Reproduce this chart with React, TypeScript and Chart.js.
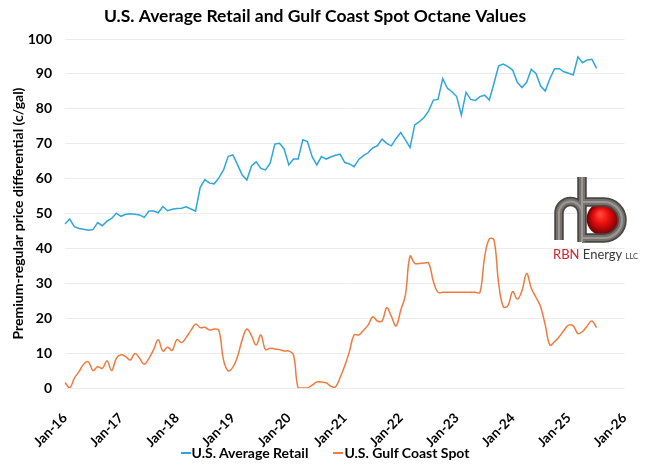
import { useEffect, useRef } from "react";
import { Chart, registerables } from "chart.js";

Chart.register(...registerables);

// Monthly category labels, Jan-16 through Jan-26
const MONTH_NAMES = ["Jan", "Feb", "Mar", "Apr", "May", "Jun", "Jul", "Aug", "Sep", "Oct", "Nov", "Dec"];
const monthLabels: string[] = [];
for (let yr = 16; yr <= 26; yr++) {
  for (let m = 0; m < 12; m++) {
    if (yr === 26 && m > 0) break;
    monthLabels.push(`${MONTH_NAMES[m]}-${yr}`);
  }
}

// Premium-regular differential, c/gal, monthly from Jan-16
const usAverageRetail = [
  47.0, 48.4, 46.2, 45.7, 45.5, 45.2, 45.4, 47.4, 46.5, 47.8, 48.6, 50.1,
  49.2, 49.8, 49.9, 49.8, 49.6, 48.9, 50.7, 50.7, 50.2, 52.0, 50.8, 51.2,
  51.4, 51.5, 51.9, 51.3, 50.7, 57.5, 59.7, 58.7, 58.5, 60.2, 62.5, 66.4,
  66.8, 64.0, 61.0, 59.6, 63.6, 64.8, 62.9, 62.5, 64.4, 69.9, 70.1, 68.5,
  63.9, 65.6, 65.6, 71.1, 70.6, 66.3, 63.9, 66.3, 65.6, 66.2, 66.7, 67.0,
  64.6, 64.2, 63.4, 65.5, 66.6, 67.4, 68.8, 69.4, 71.3, 70.1, 69.4, 71.5,
  73.2, 71.1, 68.9, 75.4, 76.3, 77.5, 79.4, 82.5, 82.7, 88.6, 85.9, 84.9,
  83.5, 78.2, 84.7, 82.7, 82.4, 83.5, 83.9, 82.5, 87.3, 92.3, 92.8, 92.1,
  91.1, 87.6, 86.1, 87.6, 91.3, 90.1, 86.5, 85.1, 88.7, 91.5, 91.5, 90.6,
  90.2, 89.7, 94.9, 93.2, 94.0, 94.2, 91.6,
];

const usGulfCoastSpot = [
  1.6, 0.0, 2.8, 4.7, 6.8, 7.5, 5.0, 6.1, 5.6, 7.8, 5.0, 8.5,
  9.5, 9.0, 8.0, 9.9, 8.5, 6.8, 8.5, 11.0, 13.8, 10.6, 11.7, 10.8,
  13.9, 13.0, 14.5, 16.5, 18.3, 17.3, 17.4, 16.6, 16.9, 16.5, 8.0, 4.9,
  6.0, 9.0, 13.8, 16.9, 15.0, 12.3, 15.2, 11.0, 11.4, 11.2, 11.0, 10.6,
  10.6, 9.5, 0.0, 0.0, 0.0, 0.8, 1.7, 1.7, 1.5, 0.5, 0.3, 3.0,
  6.4, 10.5, 15.2, 15.2, 16.5, 18.0, 20.4, 19.2, 19.2, 23.0, 20.5, 17.8,
  22.3, 26.6, 37.8, 35.7, 35.7, 35.8, 35.8, 30.5, 27.4, 27.4, 27.4, 27.4,
  27.4, 27.4, 27.4, 27.4, 27.4, 27.4, 37.6, 42.7, 42.4, 30.0, 23.3, 23.6,
  27.6, 25.5, 27.9, 32.8, 28.6, 26.0, 23.3, 18.0, 12.3, 13.3, 14.7, 16.5,
  18.0, 17.8, 15.6, 16.2, 17.8, 19.2, 17.3,
];

const SERIES_NAMES = ["U.S. Average Retail", "U.S. Gulf Coast Spot"];

const FONT = "Lato, 'Open Sans', sans-serif";
const BLUE = "#2ea6dc";
const ORANGE = "#ef7b3e";
const SERIES_COLORS = [BLUE, ORANGE];

const CANVAS_W = 650;
const CANVAS_H = 469;
const BOTTOM_PAD = 4;
const PLOT_BOTTOM = 388;

// Company mark drawn in the lower right of the plot
const logoPlugin = {
  id: "rbnLogo",
  afterDraw(chart: Chart) {
    const ctx = chart.ctx;
    ctx.save();
    // red sphere
    const cx = 603, cy = 219, r = 16.5;
    const g = ctx.createRadialGradient(cx - 3, cy - 5, 1, cx, cy, r);
    g.addColorStop(0, "#ff4a3a");
    g.addColorStop(0.4, "#f01010");
    g.addColorStop(1, "#6e0000");
    ctx.fillStyle = g;
    ctx.beginPath();
    ctx.arc(cx, cy, r, 0, Math.PI * 2);
    ctx.fill();

    const pipe = () => {
      ctx.beginPath();
      // r
      ctx.moveTo(559, 240);
      ctx.lineTo(559, 213);
      ctx.arc(570.5, 213, 11.5, Math.PI, 0);
      // b stem
      ctx.moveTo(582, 177);
      ctx.lineTo(582, 242);
      // b bowl
      ctx.moveTo(582, 202);
      ctx.lineTo(604, 202);
      ctx.arc(604, 220, 18, -Math.PI / 2, Math.PI / 2);
      ctx.lineTo(582, 238);
    };
    ctx.lineCap = "butt";
    ctx.lineJoin = "round";
    pipe();
    ctx.strokeStyle = "#4a4644";
    ctx.lineWidth = 9.5;
    ctx.stroke();
    pipe();
    ctx.strokeStyle = "#767270";
    ctx.lineWidth = 6;
    ctx.stroke();
    pipe();
    ctx.strokeStyle = "#9c9895";
    ctx.lineWidth = 2;
    ctx.stroke();

    // wordmark
    ctx.textBaseline = "alphabetic";
    ctx.textAlign = "left";
    ctx.font = `13px ${FONT}`;
    ctx.fillStyle = "#d4202c";
    ctx.fillText("RBN", 553, 259);
    const w1 = ctx.measureText("RBN ").width;
    ctx.fillStyle = "#3a3a3a";
    ctx.fillText("Energy", 553 + w1, 259);
    const w2 = ctx.measureText("Energy ").width;
    ctx.font = `7.5px ${FONT}`;
    ctx.fillText("LLC", 553 + w1 + w2, 259);
    ctx.restore();
  },
};

export default function App() {
  const canvasRef = useRef<HTMLCanvasElement | null>(null);

  useEffect(() => {
    document.body.style.margin = "0";
    const canvas = canvasRef.current;
    if (!canvas) return;
    const chart = new Chart(canvas, {
      type: "line",
      data: {
        labels: monthLabels,
        datasets: [
          {
            label: SERIES_NAMES[0],
            data: usAverageRetail,
            borderColor: BLUE,
            backgroundColor: BLUE,
            borderWidth: 1.5,
            pointRadius: 0,
            tension: 0,
          },
          {
            label: SERIES_NAMES[1],
            data: usGulfCoastSpot,
            borderColor: ORANGE,
            backgroundColor: ORANGE,
            borderWidth: 1.5,
            pointRadius: 0,
            tension: 0.4,
          },
        ],
      },
      options: {
        responsive: false,
        animation: false,
        layout: { padding: { left: 0, right: 20, top: 0, bottom: BOTTOM_PAD } },
        plugins: {
          title: {
            display: true,
            text: "U.S. Average Retail and Gulf Coast Spot Octane Values",
            color: "#000",
            font: { family: FONT, size: 17.5, weight: "bold" },
            padding: { top: 6, bottom: 12 },
          },
          legend: { display: false },
          tooltip: { enabled: false },
        },
        scales: {
          x: {
            type: "category",
            offset: false,
            grid: { display: false },
            border: { display: false },
            afterFit: (axis: any) => {
              axis.height = CANVAS_H - BOTTOM_PAD - PLOT_BOTTOM;
            },
            ticks: {
              autoSkip: false,
              minRotation: 45,
              maxRotation: 45,
              padding: 14,
              color: "#000",
              font: { family: FONT, size: 13.5, weight: "bold" },
              callback: (_v: any, i: number) => (i % 12 === 0 ? monthLabels[i] : null),
            },
          },
          y: {
            min: 0,
            max: 100,
            afterFit: (axis: any) => {
              axis.width = 65;
            },
            ticks: {
              stepSize: 10,
              color: "#000",
              padding: 13,
              font: { family: FONT, size: 14, weight: "bold" },
            },
            grid: { color: "#ebebeb", drawTicks: false },
            border: { display: false },
            title: {
              display: true,
              text: "Premium-regular price differential (c/gal)",
              color: "#000",
              font: { family: FONT, size: 14, weight: "bold" },
              padding: { top: 10, bottom: 0 },
            },
          },
        },
      },
      plugins: [logoPlugin],
    });
    return () => chart.destroy();
  }, []);

  return (
    <div style={{ position: "absolute", left: 0, top: 0, width: CANVAS_W, height: CANVAS_H, background: "#fff" }}>
      <canvas ref={canvasRef} width={CANVAS_W} height={CANVAS_H} style={{ display: "block" }} />
      <div
        style={{
          position: "absolute",
          left: 0,
          top: 444,
          width: CANVAS_W,
          height: 18,
          display: "flex",
          justifyContent: "center",
          alignItems: "center",
          gap: 25,
          fontFamily: "Lato, sans-serif",
          fontWeight: 700,
          fontSize: 14,
          lineHeight: "18px",
          color: "#000",
        }}
      >
        {SERIES_NAMES.map((name, i) => (
          <span key={name} style={{ display: "flex", alignItems: "center" }}>
            <span style={{ display: "inline-block", width: 10, height: 1.5, background: SERIES_COLORS[i], marginRight: 1 }} />
            <span>{name}</span>
          </span>
        ))}
      </div>
    </div>
  );
}
